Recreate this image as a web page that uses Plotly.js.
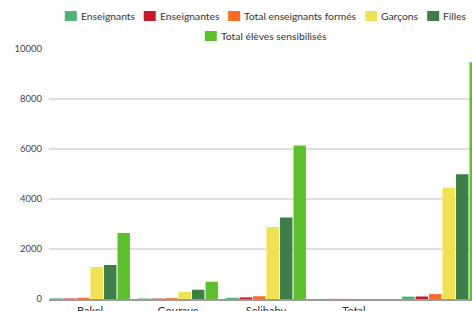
<!DOCTYPE html>
<html>
<head>
<meta charset="utf-8">
<script src="https://cdn.plot.ly/plotly-3.0.1.min.js"></script>
<style>
html,body{margin:0;padding:0;background:#fff;overflow:hidden;}
#chart{width:472px;height:311px;}
</style>
</head>
<body>
<div id="chart"></div>
<script>
// ---- data ----
const categories = ["Bakel", "Gouraye", "Selibaby", "Total", " "];
const seriesNames = ["Enseignants", "Enseignantes", "Total enseignants formés", "Garçons", "Filles", "Total élèves sensibilisés"];
const enseignants = [25, 20, 50, 5, 95];
const enseignantes = [20, 15, 65, 5, 100];
const totalFormes = [50, 35, 110, 5, 195];
const garcons = [1280, 290, 2880, 0, 4450];
const filles = [1360, 370, 3260, 0, 4990];
const totalEleves = [2640, 690, 6140, 0, 9470];
const yTicks = [0, 2000, 4000, 6000, 8000, 10000];

const seriesValues = [enseignants, enseignantes, totalFormes, garcons, filles, totalEleves];
const colors = ["#4fb276", "#c8182e", "#fd6b22", "#efe34e", "#3d7e46", "#5cc02a"];

const W = 472, H = 311;
const M = {l: 49, r: 0, t: 49, b: 12};
const plotW = W - M.l - M.r, plotH = H - M.t - M.b;
const FONT = "Lato";

const traces = seriesNames.map((name, i) => ({
  type: "bar",
  name: name,
  x: categories,
  y: seriesValues[i],
  marker: {color: colors[i], line: {width: 0}},
  showlegend: false,
  hoverinfo: "x+y+name"
}));

// ---- custom legend (Chart.js-like) ----
const cv = document.createElement("canvas").getContext("2d");
const legFontSize = 10.3;
cv.font = legFontSize + "px " + FONT;
const boxW = 12, boxH = 10, boxGap = 3, itemGap = 10, legMaxW = 530, legCenter = 265;
const rowY = [16, 36];
const items = seriesNames.map((n, i) => ({n, i, w: boxW + boxGap + cv.measureText(n).width}));
const rows = [[]];
let cur = 0;
items.forEach(it => {
  const add = (rows[rows.length - 1].length ? itemGap : 0) + it.w;
  if (cur + add > legMaxW && rows[rows.length - 1].length) { rows.push([]); cur = 0; }
  cur += (rows[rows.length - 1].length ? itemGap : 0) + it.w;
  rows[rows.length - 1].push(it);
});
const shapes = [], annotations = [];
const px2x = p => (p - M.l) / plotW;
const py2y = p => (M.t + plotH - p) / plotH;
rows.forEach((row, r) => {
  const tot = row.reduce((s, it) => s + it.w, 0) + itemGap * (row.length - 1);
  let x = legCenter - tot / 2;
  const cy = rowY[r] || (rowY[0] + 20 * r);
  row.forEach(it => {
    shapes.push({type: "rect", xref: "paper", yref: "paper",
      x0: px2x(x), x1: px2x(x + boxW), y0: py2y(cy + boxH / 2), y1: py2y(cy - boxH / 2),
      fillcolor: colors[it.i], line: {width: 0}});
    annotations.push({xref: "paper", yref: "paper", x: px2x(x + boxW + boxGap), y: py2y(cy),
      xanchor: "left", yanchor: "middle", showarrow: false, borderpad: 0,
      text: it.n, font: {family: FONT, size: legFontSize, color: "#333"}});
    x += it.w + itemGap;
  });
});

const catW = 88;
const xStart = -0.5 + 3 / catW;
const layout = {
  width: W, height: H,
  margin: M,
  paper_bgcolor: "#fff", plot_bgcolor: "#fff",
  barmode: "group", bargap: 0.08, bargroupgap: 0.08,
  showlegend: false,
  font: {family: FONT, color: "#444"},
  xaxis: {
    type: "category",
    range: [xStart, xStart + plotW / catW],
    showgrid: false, zeroline: false,
    showline: true, linecolor: "#9a9a9a", linewidth: 1.5,
    ticks: "", ticklabelstandoff: 1,
    tickfont: {family: FONT, size: 11, color: "#333"},
    fixedrange: true
  },
  yaxis: {
    range: [0, 10000],
    tickvals: yTicks, ticktext: yTicks.map(String),
    showgrid: true, gridcolor: "#dedede", gridwidth: 1.3,
    zeroline: false, showline: false,
    ticks: "", ticklabelstandoff: 6,
    tickfont: {family: FONT, size: 9.5, color: "#444"},
    fixedrange: true
  },
  shapes: shapes,
  annotations: annotations
};

Plotly.newPlot("chart", traces, layout, {displayModeBar: false, staticPlot: true});
</script>
</body>
</html>
